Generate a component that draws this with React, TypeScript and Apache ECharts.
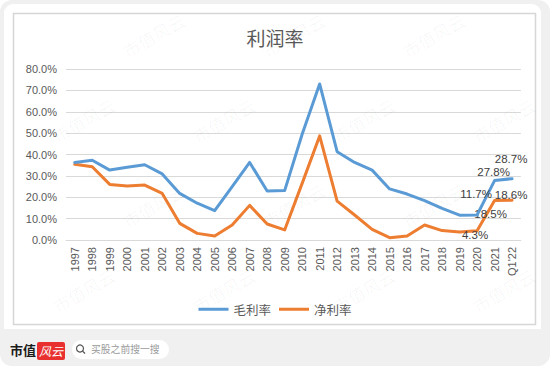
import React, { useEffect, useRef } from 'react';
import * as echarts from 'echarts';

const categories = ['1997', '1998', '1999', '2000', '2001', '2002', '2003', '2004', '2005', '2006', '2007', '2008', '2009', '2010', '2011', '2012', '2013', '2014', '2015', '2016', '2017', '2018', '2019', '2020', '2021', "Q1'22"];
const grossMargin = [36.3, 37.3, 32.7, 34.0, 35.2, 30.9, 21.8, 17.2, 13.7, 25.0, 36.3, 22.9, 23.1, 49.5, 73.0, 41.3, 36.3, 32.7, 23.9, 21.5, 18.4, 14.8, 11.6, 11.7, 27.8, 28.7];
const netMargin = [35.4, 34.3, 26.0, 25.3, 25.7, 21.8, 7.8, 3.1, 1.9, 7.0, 16.2, 7.5, 4.7, 26.5, 48.7, 18.2, 11.7, 5.0, 1.1, 1.9, 7.0, 4.4, 3.7, 4.3, 18.5, 18.6];
const yTicks = [0, 10, 20, 30, 40, 50, 60, 70, 80];
const seriesNames = ['毛利率', '净利率'];
const chartTitle = '利润率';

export default function App() {
  const ref = useRef<HTMLDivElement>(null);
  useEffect(() => {
    document.body.style.margin = '0';
    const chart = echarts.init(ref.current!, null, { renderer: 'svg' });
    const labelFont = { fontFamily: 'Liberation Sans', fontSize: 11.5, color: '#404040' };
    const grossLabels: Record<number, number[]> = { 23: [-1, -9], 24: [-1, 3], 25: [-1, -8] };
    const netLabels: Record<number, number[]> = { 23: [-2, 16], 24: [-4, 25], 25: [-1, 6] };
    const build = (arr: number[], labs: Record<number, number[]>) =>
      arr.map((v, i) =>
        labs[i]
          ? { value: v, label: { show: true, position: 'top', offset: labs[i], formatter: v.toFixed(1) + '%', ...labelFont } }
          : v
      );
    const watermarks: any[] = [];
    for (let r = 0; r < 6; r++) {
      for (let c = 0; c < 6; c++) {
        const x = c * 140 + (r % 2) * 70 - 20;
        const y = r * 85 + 45;
        if (x < 4 || x + 72 > 546 || y - 38 < 4 || y + 16 > 362) continue;
        watermarks.push({
          type: 'text',
          x,
          y,
          rotation: Math.PI / 6,
          z: 200,
          silent: true,
          style: { text: '市值风云', fill: 'rgba(0,0,0,0.035)', fontSize: 17, fontFamily: 'Noto Sans CJK SC' },
        });
      }
    }
    chart.setOption({
      animation: false,
      backgroundColor: '#ffffff',
      title: {
        text: chartTitle,
        left: 'center',
        top: 23,
        textStyle: { fontSize: 19, fontWeight: 'normal', color: '#595959', fontFamily: 'Noto Sans CJK SC' },
      },
      grid: { left: 66, right: 29.2, top: 69, bottom: 126, containLabel: false },
      legend: {
        data: seriesNames,
        left: 'center',
        top: 298,
        icon: 'rect',
        itemWidth: 30,
        itemHeight: 3,
        itemGap: 8,
        textStyle: { fontSize: 12.5, color: '#595959', fontFamily: 'Noto Sans CJK SC' },
      },
      xAxis: {
        type: 'category',
        data: categories,
        boundaryGap: true,
        axisLine: { show: true, lineStyle: { color: '#d9d9d9', width: 1 } },
        axisTick: { show: false },
        axisLabel: { rotate: 90, interval: 0, margin: 7, fontSize: 11, color: '#595959', fontFamily: 'Liberation Sans' },
      },
      yAxis: {
        type: 'value',
        min: yTicks[0],
        max: yTicks[yTicks.length - 1],
        interval: 10,
        axisLine: { show: false },
        axisTick: { show: false },
        splitLine: { lineStyle: { color: '#d9d9d9', width: 1 } },
        axisLabel: { margin: 9, fontSize: 11, color: '#595959', fontFamily: 'Liberation Sans', formatter: (v: number) => v.toFixed(1) + '%' },
      },
      series: [
        {
          name: seriesNames[0],
          type: 'line',
          data: build(grossMargin, grossLabels),
          symbol: 'circle',
          symbolSize: 1,
          lineStyle: { color: '#5B9BD5', width: 3, join: 'round', cap: 'round' },
          itemStyle: { color: '#5B9BD5' },
          z: 3,
        },
        {
          name: seriesNames[1],
          type: 'line',
          data: build(netMargin, netLabels),
          symbol: 'circle',
          symbolSize: 1,
          lineStyle: { color: '#ED7D31', width: 3, join: 'round', cap: 'round' },
          itemStyle: { color: '#ED7D31' },
          z: 2,
        },
      ],
      graphic: [
        {
          type: 'group',
          z: -10,
          silent: true,
          children: [
            { type: 'rect', shape: { x: 0, y: 0, width: 550, height: 366 }, style: { fill: '#ffffff' }, z: -10 },
            { type: 'rect', shape: { x: 0, y: 0, width: 550, height: 366, r: 12 }, style: { fill: '#f0f0f0' }, z: -9 },
            { type: 'rect', shape: { x: 4, y: 4, width: 537, height: 325, r: [9, 9, 0, 0] }, style: { fill: '#ffffff' }, z: -8 },
            { type: 'rect', shape: { x: 13.5, y: 13.5, width: 522, height: 311 }, style: { fill: 'none', stroke: '#d6d6d6', lineWidth: 1.5 }, z: -7 },
          ],
        },
        {
          type: 'group',
          silent: true,
          children: [
            { type: 'text', x: 10, y: 343, style: { text: '市值', fontSize: 13, fontWeight: 'bold', fill: '#1a1a1a', fontFamily: 'Noto Sans CJK SC' } },
            { type: 'rect', shape: { x: 37, y: 342, width: 28, height: 18, r: 2 }, style: { fill: '#e8302f' } },
            { type: 'text', x: 39, y: 344, style: { text: '风云', fontSize: 12, fontStyle: 'italic', fill: '#ffffff', fontFamily: 'Noto Sans CJK SC' } },
            { type: 'rect', shape: { x: 72, y: 340, width: 97, height: 19, r: 9.5 }, style: { fill: '#ffffff' } },
            { type: 'circle', shape: { cx: 80, cy: 348.5, r: 3.5 }, style: { fill: 'none', stroke: '#555555', lineWidth: 1.2 } },
            { type: 'line', shape: { x1: 82.6, y1: 351.1, x2: 85, y2: 353.5 }, style: { stroke: '#555555', lineWidth: 1.3 } },
            { type: 'text', x: 91, y: 344, style: { text: '买股之前搜一搜', fontSize: 9.8, fill: '#9a9a9a', fontFamily: 'Noto Sans CJK SC' } },
          ],
        },
        ...watermarks,
      ],
    });
    return () => chart.dispose();
  }, []);
  return <div ref={ref} style={{ width: 550, height: 366 }} />;
}
